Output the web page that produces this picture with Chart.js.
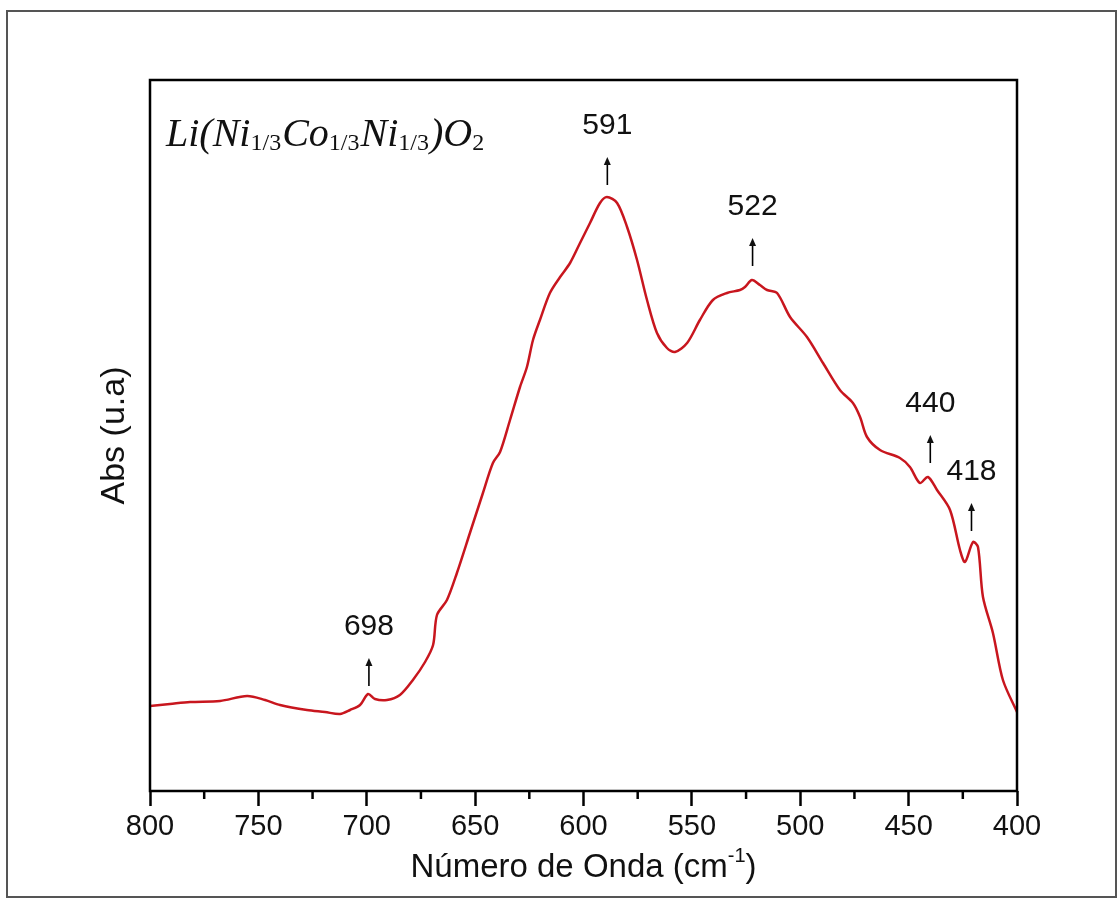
<!DOCTYPE html>
<html>
<head>
<meta charset="utf-8">
<script src="https://cdn.jsdelivr.net/npm/chart.js@4/dist/chart.umd.min.js"></script>
<style>
  body { margin: 0; background: #fff; }
  canvas { display: block; }
</style>
</head>
<body>
<canvas id="ftirChart" width="1118" height="899"></canvas>
<script>
// FTIR spectrum, wavenumber (cm-1) vs absorbance (arbitrary units)
const wavenumber = [800, 790.8, 781.5, 767.7, 755.2, 746.9, 740, 727.6, 719.3, 712.3,
    707.7, 703.1, 699.4, 696.2, 690.7, 684.7, 678.7, 673.1, 669.4, 667.6,
    663, 658.4, 652.4, 646.4, 641.8, 638.5, 633.9, 629.3, 626.1, 623.3,
    620.1, 615.5, 610.8, 606.2, 601.6, 597, 592.4, 589.2, 584.5, 579.9,
    575.3, 570.7, 566.1, 561.5, 557.8, 552.2, 546.3, 540.3, 533.8, 527.8,
    525.5, 522.3, 518.6, 515.3, 510.7, 504.7, 496.9, 489.5, 481.7, 475.7,
    472.4, 469.2, 463.2, 454, 449.4, 444.8, 441.1, 436.9, 430.9, 426.3,
    424, 420.3, 418, 415.7, 411.1, 406.5, 400];
const absorbance = [84, 86, 88, 89, 94, 90, 85, 80, 78, 76,
    80, 85, 96, 91, 90, 95, 110, 128, 145, 175,
    190, 217, 257, 297, 327, 338, 370, 403, 423, 450,
    470, 497, 513, 527, 547, 567, 587, 593, 587, 563,
    530, 490, 457, 442, 438, 447, 470, 490, 497, 500,
    503, 510, 505, 500, 497, 473, 453, 427, 400, 387,
    373, 353, 340, 332, 323, 307, 313, 300, 280, 240,
    228, 248, 243, 193, 157, 110, 78];

// peak markers: label, arrow x (cm-1), arrow base (abs)
const peakLabels = ["698", "591", "522", "440", "418"];
const peakX = [699, 589, 522, 440, 421];
const peakY = [104, 605, 524, 327, 259];

const xTicks = [800, 750, 700, 650, 600, 550, 500, 450, 400];

const points = wavenumber.map((w, i) => ({ x: w, y: absorbance[i] }));

const sans = "'Liberation Sans', Arial, sans-serif";
const serif = "'Liberation Serif', 'Times New Roman', serif";

const decorPlugin = {
    id: "decor",
    afterDraw(chart) {
        const ctx = chart.ctx;
        const area = chart.chartArea;
        const xs = chart.scales.x;
        const ys = chart.scales.y;

        ctx.save();

        // outer frame
        ctx.strokeStyle = "#555";
        ctx.lineWidth = 2;
        ctx.strokeRect(7, 11, 1109, 886);

        // plot box
        ctx.strokeStyle = "#000";
        ctx.lineWidth = 2.5;
        ctx.strokeRect(area.left, area.top, area.right - area.left, area.bottom - area.top);

        // minor ticks
        ctx.lineWidth = 2.5;
        for (let v = 775; v > 400; v -= 50) {
            const px = xs.getPixelForValue(v);
            ctx.beginPath();
            ctx.moveTo(px, area.bottom);
            ctx.lineTo(px, area.bottom + 8);
            ctx.stroke();
        }

        // peak arrows and labels
        ctx.fillStyle = "#111";
        ctx.font = "30px " + sans;
        ctx.textAlign = "center";
        ctx.textBaseline = "alphabetic";
        peakLabels.forEach((lab, i) => {
            const px = xs.getPixelForValue(peakX[i]);
            const base = ys.getPixelForValue(peakY[i]);
            const tip = base - 28;
            ctx.lineWidth = 1.6;
            ctx.beginPath();
            ctx.moveTo(px, base);
            ctx.lineTo(px, tip + 6);
            ctx.stroke();
            ctx.beginPath();
            ctx.moveTo(px, tip);
            ctx.lineTo(px - 3.5, tip + 8);
            ctx.lineTo(px + 3.5, tip + 8);
            ctx.closePath();
            ctx.fill();
            ctx.fillText(lab, px, tip - 23);
        });

        // compound formula
        const parts = [
            ["Li(Ni", false], ["1/3", true], ["Co", false], ["1/3", true],
            ["Ni", false], ["1/3", true], [")O", false], ["2", true]
        ];
        let fx = area.left + 16;
        const fy = 146;
        ctx.textAlign = "left";
        parts.forEach(([t, sub]) => {
            ctx.font = sub ? "24px " + serif : "italic 40px " + serif;
            ctx.fillText(t, fx, sub ? fy + 4 : fy);
            fx += ctx.measureText(t).width + (sub ? 1 : 0);
        });

        // x axis title with superscript
        ctx.font = "33px " + sans;
        const t1 = "Número de Onda (cm";
        const t2 = "-1";
        const t3 = ")";
        const w1 = ctx.measureText(t1).width;
        const w3 = ctx.measureText(t3).width;
        ctx.font = "20px " + sans;
        const w2 = ctx.measureText(t2).width;
        let tx = (area.left + area.right) / 2 - (w1 + w2 + w3) / 2;
        const ty = 877;
        ctx.font = "33px " + sans;
        ctx.fillText(t1, tx, ty);
        ctx.font = "20px " + sans;
        ctx.fillText(t2, tx + w1, ty - 15);
        ctx.font = "33px " + sans;
        ctx.fillText(t3, tx + w1 + w2, ty);

        // y axis title
        ctx.translate(124, (area.top + area.bottom) / 2);
        ctx.rotate(-Math.PI / 2);
        ctx.textAlign = "center";
        ctx.font = "34px " + sans;
        ctx.fillText("Abs (u.a)", 0, 0);

        ctx.restore();
    }
};

new Chart(document.getElementById("ftirChart"), {
    type: "line",
    data: {
        datasets: [
            {
                data: points,
                borderColor: "#c8161e",
                borderWidth: 2.5,
                pointRadius: 0,
                tension: 0.3,
                fill: false
            }
        ]
    },
    options: {
        responsive: false,
        animation: false,
        layout: {
            padding: { left: 150, right: 101, top: 80, bottom: 0 }
        },
        plugins: {
            legend: { display: false },
            tooltip: { enabled: false }
        },
        scales: {
            x: {
                type: "linear",
                reverse: true,
                min: 400,
                max: 800,
                afterFit(scale) { scale.height = 108; },
                border: { display: false },
                grid: {
                    drawOnChartArea: false,
                    drawTicks: true,
                    tickLength: 15,
                    tickWidth: 2.5,
                    tickColor: "#000"
                },
                ticks: {
                    stepSize: 50,
                    autoSkip: false,
                    maxRotation: 0,
                    padding: 4,
                    color: "#111",
                    font: { family: sans, size: 29 },
                    callback: (v) => xTicks.includes(v) ? String(v) : ""
                }
            },
            y: {
                display: false,
                min: -1,
                max: 710
            }
        }
    },
    plugins: [decorPlugin]
});
</script>
</body>
</html>
